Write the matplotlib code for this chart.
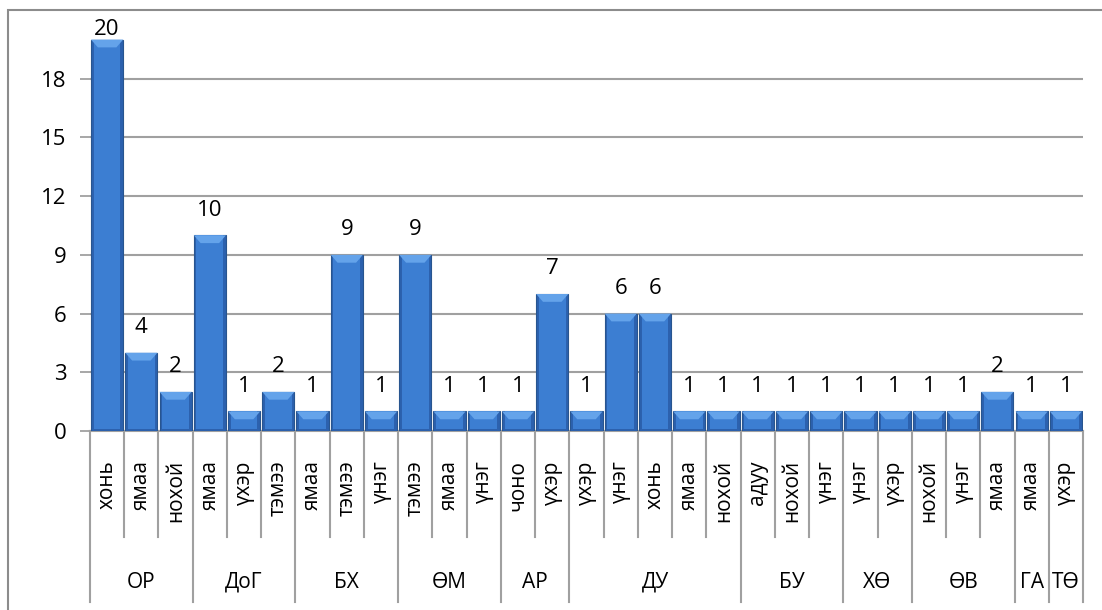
import matplotlib.pyplot as plt
from matplotlib.patches import Rectangle, Polygon
from matplotlib.transforms import blended_transform_factory
import numpy as np

plt.rcParams['font.family'] = ['Open Sans', 'DejaVu Sans']

# regions and how many animal categories each one holds
groups = ['ОР', 'ДоГ', 'БХ', 'ӨМ', 'АР', 'ДУ', 'БУ', 'ХӨ', 'ӨВ', 'ГА', 'ТӨ']
group_sizes = [3, 3, 3, 3, 2, 5, 3, 2, 3, 1, 1]

animals = ['хонь', 'ямаа', 'нохой',
           'ямаа', 'үхэр', 'тэмээ',
           'ямаа', 'тэмээ', 'үнэг',
           'тэмээ', 'ямаа', 'үнэг',
           'чоно', 'үхэр',
           'үхэр', 'үнэг', 'хонь', 'ямаа', 'нохой',
           'адуу', 'нохой', 'үнэг',
           'үнэг', 'үхэр',
           'нохой', 'үнэг', 'ямаа',
           'ямаа',
           'үхэр']
counts = [20, 4, 2,
          10, 1, 2,
          1, 9, 1,
          9, 1, 1,
          1, 7,
          1, 6, 6, 1, 1,
          1, 1, 1,
          1, 1,
          1, 1, 2,
          1,
          1]

W, H = 1102, 610
fig = plt.figure(figsize=(W / 100, H / 100), dpi=100)
ax = fig.add_axes([90 / W, 1 - 431 / H, (1083 - 90) / W, (431 - 20) / H])

x = np.arange(len(counts))
vals = np.array(counts, dtype=float)
bw = 0.94
cap = 0.4    # height of the light top bevel, in data units
side = 0.2   # inset of the bevel, in category widths

# bevelled blue bars: dark body edge, lighter centre, bright top cap
ax.bar(x, vals, width=bw, color='#2c61ae', edgecolor='#28558f', linewidth=0.8, zorder=3)
ax.bar(x, vals - 0.12, bottom=0.12, width=bw - 0.16, color='#3c7ed2',
       linewidth=0, zorder=4)
for xi, v in zip(x, vals):
    ax.add_patch(Polygon([(xi - bw / 2, v), (xi + bw / 2, v),
                          (xi + bw / 2 - side, v - cap), (xi - bw / 2 + side, v - cap)],
                         closed=True, facecolor='#64a3ea', edgecolor='none', zorder=5))

ymax = 21
ax.set_ylim(0, ymax)
ax.set_xlim(-0.5, len(counts) - 0.5)
ax.set_yticks(range(0, 19, 3))
ax.yaxis.grid(True, color='#a0a0a0', linewidth=1.5, zorder=0)
ax.tick_params(axis='y', length=7, width=1.3, color='#a0a0a0', labelsize=16, pad=10)
for s in ['top', 'right', 'left']:
    ax.spines[s].set_visible(False)
ax.spines['bottom'].set_color('#a0a0a0')
ax.spines['bottom'].set_linewidth(1.5)

for xi, v in zip(x, counts):
    ax.text(xi, min(v + 0.75, ymax - 1.0), str(v), ha='center', va='bottom',
            fontsize=16, zorder=6)

ax.set_xticks(x)
ax.set_xticklabels(animals, rotation=90, fontsize=15)
ax.tick_params(axis='x', length=0, pad=21)

trans = blended_transform_factory(ax.transData, fig.transFigure)
y0 = 1 - 431 / H
y_inner = 1 - 537 / H
y_outer = 1 - 602 / H
edges = np.cumsum([0] + group_sizes) - 0.5
group_edges = set(edges.tolist())
for b in np.arange(-0.5, len(counts), 1.0):
    yb = y_outer if b in group_edges else y_inner
    ax.plot([b, b], [y0, yb], color='#a0a0a0', linewidth=1.5, transform=trans,
            clip_on=False)
for g, a, b in zip(groups, edges[:-1], edges[1:]):
    ax.text((a + b) / 2, 1 - 582 / H, g, ha='center', va='center', fontsize=15,
            transform=trans)

# outer chart border, running past the right and bottom edges
fig.patches.append(Rectangle((8 / W, -0.1), 1.2, 1 - 10 / H + 0.1, transform=fig.transFigure,
                             fill=False, edgecolor='#8c8c8c', linewidth=1.5))

fig.savefig('out.png', dpi=100)
